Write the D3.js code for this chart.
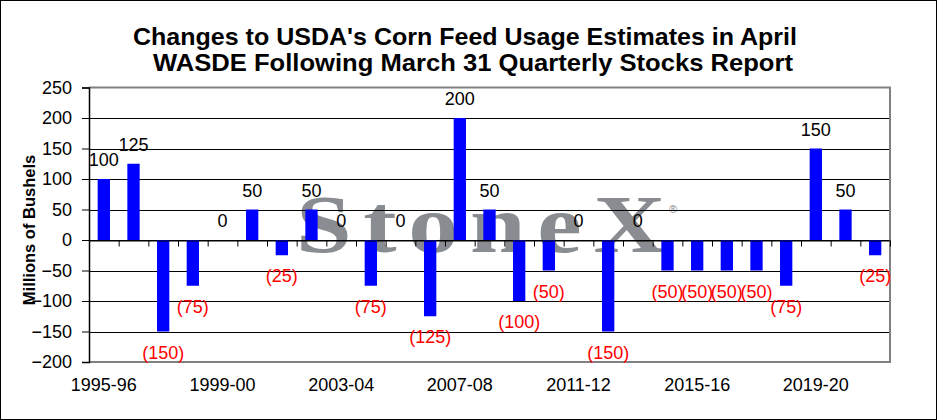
<!DOCTYPE html>
<html>
<head>
<meta charset="utf-8">
<script src="https://cdn.jsdelivr.net/npm/d3@7"></script>
<style>
  body { margin: 0; background: #fff; }
  svg { display: block; font-family: "Liberation Sans", Arial, sans-serif; }
</style>
</head>
<body>
<div id="chart"></div>
<script>
// Marketing years and the change to feed usage (million bushels)
const years = ["1995-96", "1996-97", "1997-98", "1998-99", "1999-00", "2000-01", "2001-02",
    "2002-03", "2003-04", "2004-05", "2005-06", "2006-07", "2007-08", "2008-09", "2009-10",
    "2010-11", "2011-12", "2012-13", "2013-14", "2014-15", "2015-16", "2016-17", "2017-18",
    "2018-19", "2019-20", "2020-21", "2021-22"];
const changes = [100, 125, -150, -75, 0, 50, -25, 50, 0, -75, 0, -125, 200, 50, -100,
    -50, 0, -150, 0, -50, -50, -50, -50, -75, 150, 50, -25];
const yTicks = [-200, -150, -100, -50, 0, 50, 100, 150, 200, 250];
const titleLines = ["Changes to USDA's Corn Feed Usage Estimates in April",
    "WASDE Following March 31 Quarterly Stocks Report"];

const width = 937, height = 420;
const plot = { left: 89, right: 890, top: 87.5, bottom: 362 };

const svg = d3.select("#chart").append("svg")
    .attr("width", width)
    .attr("height", height);

// outer frame
svg.append("rect")
    .attr("x", 0.5).attr("y", 0.5)
    .attr("width", width - 1).attr("height", height - 1)
    .attr("fill", "#fff").attr("stroke", "#000");

// title (two lines, stretched to the original's width)
const titleStart = [133, 153], titleWidth = [664, 640];
svg.append("g").selectAll("text")
    .data(titleLines)
    .enter()
    .append("text")
    .attr("x", (d, i) => titleStart[i])
    .attr("y", (d, i) => 44.5 + i * 26)
    .attr("font-size", 24)
    .attr("font-weight", "bold")
    .attr("textLength", (d, i) => titleWidth[i])
    .attr("lengthAdjust", "spacingAndGlyphs")
    .text(d => d);

// scales
const x = d3.scaleBand()
    .domain(years)
    .range([plot.left, plot.right])
    .paddingInner(0.585)
    .paddingOuter(0.2925);

const boundary = d3.scaleLinear()
    .domain([0, years.length])
    .range([plot.left, plot.right]);

const y = d3.scaleLinear()
    .domain([-200, 250])
    .range([plot.bottom, plot.top]);

// watermark behind the plot
const mark = svg.append("g");
mark.append("text")
    .attr("transform", "translate(296,252) scale(1.22,1)")
    .attr("font-family", "'Liberation Serif', 'DejaVu Serif', serif")
    .attr("font-weight", "bold")
    .attr("font-size", 82)
    .attr("textLength", 303)
    .attr("lengthAdjust", "spacing")
    .attr("fill", "#898c90")
    .text("StoneX");
mark.append("text")
    .attr("x", 669)
    .attr("y", 213)
    .attr("font-size", 11)
    .attr("fill", "#898c90")
    .text("®");

// gridlines
svg.append("g")
    .selectAll("line")
    .data(yTicks.filter(t => t > -200 && t < 250))
    .enter()
    .append("line")
    .attr("x1", plot.left).attr("x2", plot.right)
    .attr("y1", d => Math.round(y(d)) + 0.5)
    .attr("y2", d => Math.round(y(d)) + 0.5)
    .attr("stroke", "#000");

// plot border (top, right, bottom in gray)
svg.append("path")
    .attr("d", `M${plot.left},${plot.top}H${plot.right}V${plot.bottom}H${plot.left}`)
    .attr("fill", "none")
    .attr("stroke", "#808080")
    .attr("stroke-width", 2);

// bars
svg.append("g")
    .selectAll("rect")
    .data(changes)
    .enter()
    .append("rect")
    .attr("x", (d, i) => x(years[i]))
    .attr("y", d => y(Math.max(0, d)))
    .attr("width", x.bandwidth())
    .attr("height", d => Math.abs(y(d) - y(0)))
    .attr("fill", "#0000ff");

// y axis
const yAxis = svg.append("g")
    .attr("transform", `translate(${plot.left},0)`)
    .call(d3.axisLeft(y).tickValues(yTicks).tickSize(7).tickPadding(10));
yAxis.select(".domain").attr("stroke", "#000").attr("stroke-width", 1.5);
yAxis.selectAll("text")
    .attr("font-size", 18)
    .attr("font-family", "'Liberation Sans', Arial, sans-serif")
    .attr("fill", "#000");

// zero line with category tick marks
const zeroAxis = svg.append("g")
    .attr("transform", `translate(0,${Math.round(y(0)) + 0.5})`)
    .call(d3.axisBottom(boundary).tickValues(d3.range(1, years.length + 1)).tickSize(6).tickSizeOuter(0).tickFormat(""));
zeroAxis.select(".domain").attr("stroke", "#000");

// category labels every fourth year
const xAxis = svg.append("g")
    .attr("transform", `translate(0,${plot.bottom})`)
    .call(d3.axisBottom(x).tickValues(years.filter((d, i) => i % 4 === 0)).tickSize(0).tickPadding(16));
xAxis.select(".domain").remove();
xAxis.selectAll("text")
    .attr("font-size", 18)
    .attr("font-family", "'Liberation Sans', Arial, sans-serif")
    .attr("fill", "#000");

// y axis title
svg.append("text")
    .attr("transform", `translate(35,230) rotate(-90)`)
    .attr("text-anchor", "middle")
    .attr("font-size", 16.5)
    .attr("font-weight", "bold")
    .text("Millions of Bushels");

// data labels
svg.append("g")
    .selectAll("text")
    .data(changes)
    .enter()
    .append("text")
    .attr("x", (d, i) => x(years[i]) + x.bandwidth() / 2)
    .attr("y", d => d < 0 ? y(d) + 27 : y(d) - 13)
    .attr("text-anchor", "middle")
    .attr("font-size", 18)
    .attr("fill", d => d < 0 ? "#ff0000" : "#000")
    .text(d => d < 0 ? `(${-d})` : d);
</script>
</body>
</html>
